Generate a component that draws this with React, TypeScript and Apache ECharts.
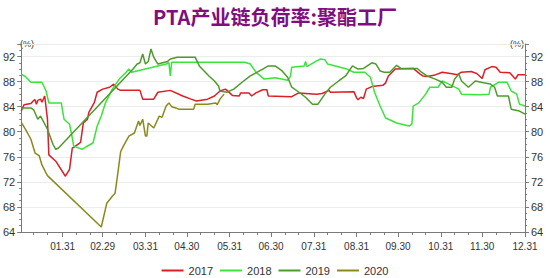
import React, { useEffect, useRef } from "react";
import * as echarts from "echarts";

// ---- data ----
const monthLengths = [31, 29, 31, 30, 31, 30, 31, 31, 30, 31, 30, 31];
const categories: string[] = [];
monthLengths.forEach((len, m) => {
  for (let d = 1; d <= len; d++) {
    categories.push(String(m + 1).padStart(2, "0") + "." + String(d).padStart(2, "0"));
  }
});
const tickLabels = ["01.31", "02.29", "03.31", "04.30", "05.31", "06.30", "07.31", "08.31", "09.30", "10.31", "11.30", "12.31"];
const minorTickDays = ["10", "20"];
const seriesNames = ["2017", "2018", "2019", "2020"];
const yTicks = { min: 64, max: 94, step: 4 };

// [day index of year, load %]
const load2017: [number, number][] = [
  [0, 83.3], [2, 84.3], [7, 84.5], [9, 85.0], [10, 85.1], [11, 84.4], [12, 85.0], [14, 85.2], [15, 84.7], [17, 85.7],
  [19, 82.0], [20, 76.3], [25, 75.3], [32, 72.9], [35, 74.0], [37, 77.4], [38, 77.5], [43, 78.3], [45, 81.4], [48, 82.0],
  [49, 83.1], [53, 84.7], [55, 86.3], [59, 86.8], [64, 87.1], [67, 87.6], [70, 86.8], [72, 86.6], [86, 86.6], [88, 85.2],
  [96, 85.2], [99, 86.3], [108, 86.6], [117, 85.7], [123, 85.2], [127, 84.9], [135, 85.2], [140, 85.7], [144, 86.5], [148, 86.8],
  [153, 85.8], [158, 85.7], [159, 86.2], [165, 86.2], [167, 85.7], [170, 86.2], [175, 86.7], [178, 86.7], [179, 85.7], [196, 85.6],
  [201, 86.2], [214, 86.0], [218, 86.1], [223, 86.6], [224, 86.3], [241, 86.4], [243, 85.4], [244, 85.1], [246, 85.5], [248, 85.3],
  [250, 86.8], [254, 87.2], [262, 87.4], [264, 87.8], [266, 88.9], [271, 90.0], [284, 90.1], [289, 89.2], [291, 88.9], [294, 88.8],
  [299, 89.0], [305, 89.5], [311, 89.3], [316, 89.1], [319, 89.5], [326, 89.6], [330, 89.3], [334, 88.5], [336, 89.9], [341, 90.4],
  [344, 90.3], [347, 89.5], [354, 89.4], [358, 88.4], [360, 89.1], [365, 89.1],
];
const load2018: [number, number][] = [
  [0, 89.2], [3, 88.8], [7, 87.9], [15, 87.9], [18, 86.5], [20, 84.6], [29, 84.6], [31, 82.0], [35, 81.2], [37, 79.0],
  [38, 77.7], [44, 77.2], [47, 77.6], [52, 78.2], [55, 80.9], [58, 82.5], [61, 84.6], [66, 86.8], [71, 88.4], [76, 89.5],
  [78, 90.0], [80, 89.5], [99, 90.5], [105, 90.8], [107, 91.0], [108, 88.9], [109, 91.1], [162, 91.1], [166, 90.8], [170, 89.5],
  [176, 88.4], [184, 88.6], [193, 88.2], [195, 88.8], [196, 90.3], [205, 90.5], [206, 91.2], [207, 90.4], [214, 91.3], [217, 91.6],
  [220, 91.5], [222, 90.8], [231, 90.3], [236, 90.0], [241, 89.5], [249, 89.5], [253, 88.7], [256, 86.3], [260, 84.1], [264, 82.2],
  [272, 81.4], [281, 80.9], [283, 81.2], [284, 84.1], [288, 84.6], [293, 86.0], [296, 87.1], [302, 87.1], [305, 88.1], [308, 87.8],
  [317, 86.8], [319, 86.0], [332, 85.9], [339, 86.0], [340, 87.1], [346, 87.9], [352, 87.9], [355, 86.5], [359, 86.0], [361, 84.4],
  [365, 84.1],
];
const load2019: [number, number][] = [
  [0, 83.8], [7, 83.8], [9, 83.5], [12, 82.0], [14, 82.5], [19, 80.4], [23, 78.0], [25, 77.2], [27, 77.4], [81, 90.0],
  [84, 90.8], [86, 91.0], [88, 92.4], [90, 90.8], [92, 91.2], [94, 93.2], [96, 91.9], [99, 90.8], [106, 91.2], [108, 91.6],
  [113, 91.9], [126, 91.9], [129, 90.5], [136, 88.9], [140, 88.1], [143, 87.3], [144, 86.5], [149, 86.3], [154, 86.8], [160, 87.9],
  [166, 88.9], [171, 89.5], [175, 90.0], [179, 90.5], [184, 90.5], [189, 89.7], [193, 88.7], [196, 87.1], [200, 86.5], [206, 85.5],
  [211, 84.4], [215, 84.4], [220, 86.0], [224, 87.1], [230, 88.1], [235, 88.9], [240, 90.5], [244, 90.0], [248, 90.1], [254, 91.0],
  [257, 90.8], [260, 89.7], [263, 89.5], [267, 89.5], [272, 90.6], [275, 90.1], [287, 90.1], [290, 89.5], [294, 88.9], [300, 88.4],
  [305, 87.9], [308, 87.1], [312, 87.1], [314, 88.4], [317, 89.2], [319, 88.1], [324, 87.1], [329, 88.1], [335, 87.8], [340, 87.6],
  [343, 87.1], [345, 85.7], [353, 85.7], [355, 83.6], [361, 83.3], [365, 82.8],
];
const load2020: [number, number][] = [
  [0, 81.5], [3, 80.4], [7, 78.8], [10, 76.6], [13, 76.2], [15, 74.7], [18, 73.4], [19, 73.0], [58, 64.8], [62, 68.6],
  [66, 69.7], [68, 70.2], [70, 73.4], [72, 76.8], [74, 77.7], [78, 79.3], [82, 79.8], [85, 81.7], [86, 81.0], [88, 82.0],
  [90, 79.3], [91, 79.3], [92, 81.4], [96, 80.6], [100, 82.5], [102, 82.3], [105, 84.1], [107, 84.6], [109, 84.0], [112, 83.8],
  [114, 83.6], [125, 83.6], [126, 84.4], [135, 84.4], [141, 84.6], [142, 84.3], [144, 85.2], [147, 86.0],
];
const seriesData = [load2017, load2018, load2019, load2020];
const colors = ["#dc1e26", "#3ae43a", "#4f9a2c", "#8a8a1c"];

const FONT = "Liberation Sans, Arial, sans-serif";

export default function App() {
  const ref = useRef<HTMLDivElement>(null);
  useEffect(() => {
    if (!ref.current) return;
    const chart = echarts.init(ref.current, undefined, { renderer: "svg" });
    const isLabel = (i: number) => tickLabels.indexOf(categories[i]) >= 0;
    const isMinor = (i: number) => minorTickDays.indexOf(categories[i].slice(3)) >= 0;
    const yAxisBase = (position: "left" | "right") => ({
      type: "value" as const,
      position,
      min: yTicks.min,
      max: yTicks.max,
      interval: yTicks.step,
      axisLine: { show: true, lineStyle: { color: "#7a7a7a", width: 1 } },
      axisTick: { show: true, length: 4, lineStyle: { color: "#7a7a7a" } },
      minorTick: { show: true, splitNumber: 4, length: 2, lineStyle: { color: "#7a7a7a" } },
      axisLabel: {
        color: "#333",
        fontSize: 11,
        fontFamily: FONT,
        margin: 6,
        showMaxLabel: false,
      },
      splitLine: { show: position === "left", lineStyle: { color: "#ececec", width: 1 } },
    });
    chart.setOption({
      animation: false,
      color: colors,
      title: {
        text: "PTA产业链负荷率:聚酯工厂",
        left: "center",
        top: 1,
        textStyle: {
          color: "#800e80",
          fontSize: 20,
          fontWeight: "bold",
          fontFamily: "Noto Sans CJK SC, sans-serif",
        },
      },
      graphic: [
        { type: "text", left: 20, top: 39, style: { text: "(%)", fontSize: 9, fill: "#333", fontFamily: FONT } },
        { type: "text", right: 26, top: 39, style: { text: "(%)", fontSize: 9, fill: "#333", fontFamily: FONT } },
      ],
      legend: {
        data: seriesNames,
        top: 260,
        left: "center",
        icon: "rect",
        itemWidth: 22,
        itemHeight: 2,
        itemGap: 7,
        textStyle: { fontSize: 11, color: "#333", fontFamily: FONT },
      },
      grid: { left: 21, right: 25, top: 44, bottom: 46, containLabel: false },
      xAxis: [
        {
          type: "category",
          data: categories,
          boundaryGap: false,
          axisLine: { show: true, lineStyle: { color: "#7a7a7a" } },
          axisTick: { show: true, length: 5, interval: (i: number) => isLabel(i), lineStyle: { color: "#7a7a7a" } },
          axisLabel: {
            interval: (i: number) => isLabel(i),
            color: "#333",
            fontSize: 10,
            fontFamily: FONT,
            margin: 9,
          },
          splitLine: { show: false },
        },
        {
          type: "category",
          data: categories,
          boundaryGap: false,
          position: "bottom",
          axisLine: { show: false },
          axisTick: { show: true, length: 3, interval: (i: number) => isMinor(i), lineStyle: { color: "#7a7a7a" } },
          axisLabel: { show: false },
          splitLine: { show: false },
        },
      ],
      yAxis: [yAxisBase("left"), yAxisBase("right")],
      series: seriesNames.map((name, k) => ({
        name,
        type: "line",
        xAxisIndex: 0,
        yAxisIndex: 0,
        data: seriesData[k],
        showSymbol: false,
        symbol: "none",
        lineStyle: { width: 1.5, color: colors[k] },
        itemStyle: { color: colors[k] },
      })),
    });
    return () => chart.dispose();
  }, []);
  return (
    <div
      ref={ref}
      style={{ position: "fixed", left: 0, top: 0, width: 550, height: 278, background: "#fff" }}
    />
  );
}
